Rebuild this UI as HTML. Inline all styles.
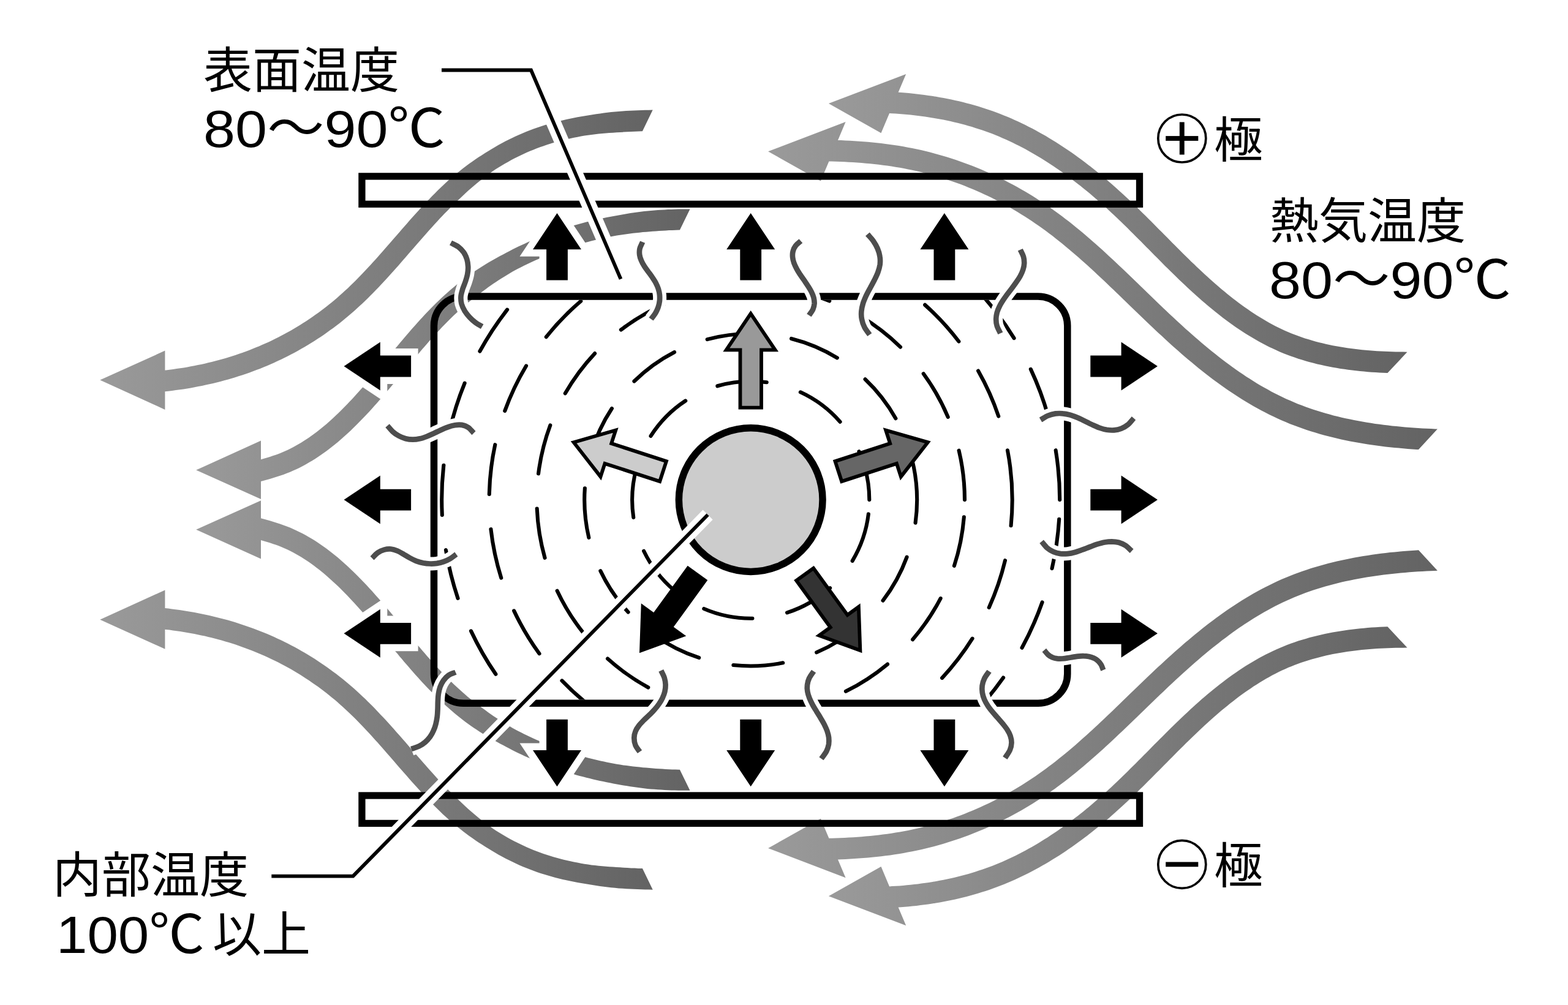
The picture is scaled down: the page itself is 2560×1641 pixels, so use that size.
<!DOCTYPE html>
<html lang="ja"><head><meta charset="utf-8"><title>誘電加熱の温度分布</title>
<style>html,body{margin:0;padding:0;background:#fff;font-family:"Liberation Sans",sans-serif}svg{display:block;width:2560px;height:1641px}</style></head><body>
<svg xmlns="http://www.w3.org/2000/svg" width="2560" height="1641" viewBox="0 0 2560 1641">
<defs>
<linearGradient id="sg" x1="0" y1="0" x2="1" y2="0"><stop offset="0" stop-color="#9a9a9a"/><stop offset="1" stop-color="#636363"/></linearGradient>
<clipPath id="blk"><path d="M756.5 489.8L1694.8 489.8C1718.2 489.8 1737.1 508.7 1737.1 532L1737.1 1100.3C1737.1 1123.6 1718.2 1142.5 1694.8 1142.5L756.5 1142.5C733.2 1142.5 714.3 1123.6 714.3 1100.3L714.3 532C714.3 508.7 733.2 489.8 756.5 489.8Z"/></clipPath>
</defs>
<rect width="2560" height="1641" fill="#fff"/>
<g id="streams" fill="url(#sg)">
<path d="M163.3 620.5 L269.4 572.6 L269.4 604.6 L270.9 604.4 L276.7 603.7 L282.5 602.9 L288.3 602.1 L294.1 601.3 L299.9 600.4 L305.7 599.4 L311.4 598.3 L317.2 597.3 L322.9 596.1 L328.6 594.9 L334.3 593.7 L339.9 592.3 L345.6 591 L351.2 589.5 L356.9 588 L362.5 586.5 L368 584.9 L373.6 583.2 L379.2 581.5 L384.7 579.7 L390.2 577.8 L395.6 575.9 L401.1 573.9 L406.5 571.9 L411.9 569.8 L417.3 567.6 L422.7 565.4 L428 563.1 L433.3 560.8 L438.6 558.4 L443.8 555.9 L449.1 553.3 L454.3 550.7 L459.4 548.1 L464.6 545.3 L469.7 542.5 L474.8 539.7 L479.8 536.7 L484.8 533.8 L489.8 530.7 L494.8 527.6 L499.7 524.4 L504.5 521.2 L509.3 517.9 L514.1 514.6 L518.9 511.2 L523.6 507.8 L528.2 504.3 L532.8 500.7 L537.4 497.1 L541.9 493.4 L546.4 489.7 L550.8 486 L555.1 482.1 L559.4 478.3 L563.7 474.3 L568 470.4 L572.2 466.3 L576.4 462.3 L580.5 458.2 L584.6 454 L588.7 449.8 L592.8 445.6 L596.8 441.3 L600.8 437 L604.8 432.7 L608.8 428.3 L612.8 423.9 L616.8 419.5 L620.7 415 L624.7 410.6 L628.6 406.1 L632.5 401.6 L636.5 397.1 L640.4 392.5 L644.3 388 L648.3 383.4 L652.2 378.9 L656.2 374.3 L660.2 369.8 L664.2 365.2 L668.2 360.6 L672.2 356.1 L676.3 351.6 L680.4 347 L684.5 342.5 L688.6 338 L692.7 333.5 L696.9 329.1 L701.2 324.7 L705.4 320.2 L709.8 315.9 L714.1 311.5 L718.5 307.2 L723 302.9 L727.5 298.7 L732.1 294.6 L736.8 290.5 L741.5 286.5 L746.3 282.6 L751.2 278.7 L756.1 274.8 L761.1 271 L766.1 267.3 L771.2 263.7 L776.4 260.1 L781.6 256.6 L786.9 253.2 L792.2 249.8 L797.6 246.5 L802.9 243.2 L808.4 240 L813.8 236.8 L819.4 233.8 L824.9 230.8 L830.5 228 L836.2 225.2 L841.9 222.5 L847.6 219.9 L853.4 217.4 L859.2 215 L865 212.7 L870.9 210.5 L876.8 208.4 L882.7 206.4 L888.7 204.5 L894.6 202.7 L900.6 201 L906.6 199.4 L912.6 197.8 L918.6 196.4 L924.7 195 L930.7 193.7 L936.8 192.5 L942.9 191.3 L948.9 190.3 L955 189.3 L961.1 188.3 L967.2 187.2 L973.3 186.3 L979.5 185.4 L985.6 184.6 L991.7 183.8 L997.8 183.1 L1004 182.5 L1010.1 181.9 L1016.3 181.5 L1022.4 181.1 L1028.5 180.7 L1034.7 180.5 L1040.8 180.2 L1047 180 L1053.1 179.8 L1059.2 179.7 L1065.3 179.5 L1065.7 179.5 L1048.9 214.2 L1048 214.3 L1042.1 214.4 L1036.2 214.7 L1030.3 214.9 L1024.3 215.3 L1018.4 215.6 L1012.6 216 L1006.7 216.3 L1000.8 216.7 L994.9 217.1 L989.1 217.5 L983.2 218 L977.4 218.6 L971.6 219.2 L965.8 219.9 L960 220.7 L954.2 221.6 L948.5 222.6 L942.8 223.7 L937.1 224.8 L931.5 226 L925.8 227.3 L920.2 228.6 L914.6 230 L909.1 231.5 L903.6 233.1 L898.1 234.8 L892.6 236.5 L887.1 238.4 L881.7 240.3 L876.3 242.3 L871 244.4 L865.7 246.5 L860.4 248.8 L855.1 251.2 L849.9 253.7 L844.7 256.2 L839.5 258.8 L834.3 261.6 L829.3 264.4 L824.2 267.2 L819.2 270.2 L814.2 273.2 L809.3 276.3 L804.5 279.6 L799.7 283 L795 286.4 L790.4 289.9 L785.8 293.4 L781.3 297 L776.8 300.7 L772.4 304.5 L768 308.3 L763.7 312.1 L759.4 316 L755.2 320 L751 324 L746.7 328 L742.5 332 L738.4 336.1 L734.2 340.2 L730.1 344.4 L726 348.6 L722 352.8 L717.9 357.1 L713.9 361.4 L709.9 365.8 L705.9 370.2 L702 374.6 L698 379 L694.1 383.5 L690.1 388 L686.2 392.5 L682.2 397 L678.3 401.5 L674.4 406 L670.4 410.6 L666.5 415.1 L662.5 419.7 L658.5 424.3 L654.6 428.8 L650.6 433.4 L646.5 437.9 L642.5 442.5 L638.4 447 L634.4 451.5 L630.3 456 L626.1 460.5 L621.9 464.9 L617.7 469.4 L613.5 473.8 L609.2 478.2 L604.9 482.6 L600.5 486.9 L596.1 491.2 L591.7 495.4 L587.2 499.6 L582.6 503.8 L578 508 L573.3 512 L568.6 516.1 L563.8 520.1 L559 524 L554.1 527.9 L549.1 531.7 L544.2 535.4 L539.1 539.1 L534 542.8 L528.9 546.4 L523.7 549.9 L518.5 553.3 L513.3 556.7 L508 560 L502.7 563.3 L497.3 566.5 L491.9 569.6 L486.4 572.7 L481 575.7 L475.5 578.6 L469.9 581.5 L464.3 584.3 L458.8 587 L453.1 589.6 L447.5 592.2 L441.8 594.7 L436.1 597.2 L430.4 599.6 L424.6 601.9 L418.8 604.1 L413 606.3 L407.2 608.4 L401.4 610.4 L395.5 612.4 L389.6 614.3 L383.7 616.2 L377.8 618 L371.9 619.7 L365.9 621.3 L359.9 622.9 L353.9 624.4 L347.9 625.9 L341.9 627.3 L335.9 628.6 L329.8 629.9 L323.7 631.1 L317.7 632.3 L311.6 633.4 L305.5 634.4 L299.4 635.4 L293.2 636.3 L287.1 637.1 L281 637.9 L274.8 638.7 L269.4 639.3 L269.4 668.9Z"/>
<path d="M163.3 1011.8 L269.4 1059.7 L269.4 1027.7 L270.9 1027.9 L276.7 1028.6 L282.5 1029.4 L288.3 1030.2 L294.1 1031 L299.9 1031.9 L305.7 1032.9 L311.4 1034 L317.2 1035 L322.9 1036.2 L328.6 1037.4 L334.3 1038.6 L339.9 1040 L345.6 1041.3 L351.2 1042.8 L356.9 1044.3 L362.5 1045.8 L368 1047.4 L373.6 1049.1 L379.2 1050.8 L384.7 1052.6 L390.2 1054.5 L395.6 1056.4 L401.1 1058.4 L406.5 1060.4 L411.9 1062.5 L417.3 1064.7 L422.7 1066.9 L428 1069.2 L433.3 1071.5 L438.6 1073.9 L443.8 1076.4 L449.1 1079 L454.3 1081.6 L459.4 1084.2 L464.6 1087 L469.7 1089.8 L474.8 1092.6 L479.8 1095.6 L484.8 1098.5 L489.8 1101.6 L494.8 1104.7 L499.7 1107.9 L504.5 1111.1 L509.3 1114.4 L514.1 1117.7 L518.9 1121.1 L523.6 1124.5 L528.2 1128 L532.8 1131.6 L537.4 1135.2 L541.9 1138.9 L546.4 1142.6 L550.8 1146.3 L555.1 1150.2 L559.4 1154 L563.7 1158 L568 1161.9 L572.2 1166 L576.4 1170 L580.5 1174.1 L584.6 1178.3 L588.7 1182.5 L592.8 1186.7 L596.8 1191 L600.8 1195.3 L604.8 1199.6 L608.8 1204 L612.8 1208.4 L616.8 1212.8 L620.7 1217.3 L624.7 1221.7 L628.6 1226.2 L632.5 1230.7 L636.5 1235.2 L640.4 1239.8 L644.3 1244.3 L648.3 1248.9 L652.2 1253.4 L656.2 1258 L660.2 1262.5 L664.2 1267.1 L668.2 1271.7 L672.2 1276.2 L676.3 1280.7 L680.4 1285.3 L684.5 1289.8 L688.6 1294.3 L692.7 1298.8 L696.9 1303.2 L701.2 1307.6 L705.4 1312.1 L709.8 1316.4 L714.1 1320.8 L718.5 1325.1 L723 1329.4 L727.5 1333.6 L732.1 1337.7 L736.8 1341.8 L741.5 1345.8 L746.3 1349.7 L751.2 1353.6 L756.1 1357.5 L761.1 1361.3 L766.1 1365 L771.2 1368.6 L776.4 1372.2 L781.6 1375.7 L786.9 1379.1 L792.2 1382.5 L797.6 1385.8 L802.9 1389.1 L808.4 1392.3 L813.8 1395.5 L819.4 1398.5 L824.9 1401.5 L830.5 1404.3 L836.2 1407.1 L841.9 1409.8 L847.6 1412.4 L853.4 1414.9 L859.2 1417.3 L865 1419.6 L870.9 1421.8 L876.8 1423.9 L882.7 1425.9 L888.7 1427.8 L894.6 1429.6 L900.6 1431.3 L906.6 1432.9 L912.6 1434.5 L918.6 1435.9 L924.7 1437.3 L930.7 1438.6 L936.8 1439.8 L942.9 1441 L948.9 1442 L955 1443 L961.1 1444 L967.2 1445.1 L973.3 1446 L979.5 1446.9 L985.6 1447.7 L991.7 1448.5 L997.8 1449.2 L1004 1449.8 L1010.1 1450.4 L1016.3 1450.8 L1022.4 1451.2 L1028.5 1451.6 L1034.7 1451.8 L1040.8 1452.1 L1047 1452.3 L1053.1 1452.5 L1059.2 1452.6 L1065.3 1452.8 L1065.7 1452.8 L1048.9 1418.1 L1048 1418 L1042.1 1417.9 L1036.2 1417.6 L1030.3 1417.4 L1024.3 1417 L1018.4 1416.7 L1012.6 1416.3 L1006.7 1416 L1000.8 1415.6 L994.9 1415.2 L989.1 1414.8 L983.2 1414.3 L977.4 1413.7 L971.6 1413.1 L965.8 1412.4 L960 1411.6 L954.2 1410.7 L948.5 1409.7 L942.8 1408.6 L937.1 1407.5 L931.5 1406.3 L925.8 1405 L920.2 1403.7 L914.6 1402.3 L909.1 1400.8 L903.6 1399.2 L898.1 1397.5 L892.6 1395.8 L887.1 1393.9 L881.7 1392 L876.3 1390 L871 1387.9 L865.7 1385.8 L860.4 1383.5 L855.1 1381.1 L849.9 1378.6 L844.7 1376.1 L839.5 1373.5 L834.3 1370.7 L829.3 1367.9 L824.2 1365.1 L819.2 1362.1 L814.2 1359.1 L809.3 1356 L804.5 1352.7 L799.7 1349.3 L795 1345.9 L790.4 1342.4 L785.8 1338.9 L781.3 1335.3 L776.8 1331.6 L772.4 1327.8 L768 1324 L763.7 1320.2 L759.4 1316.3 L755.2 1312.3 L751 1308.3 L746.7 1304.3 L742.5 1300.3 L738.4 1296.2 L734.2 1292.1 L730.1 1287.9 L726 1283.7 L722 1279.5 L717.9 1275.2 L713.9 1270.9 L709.9 1266.5 L705.9 1262.1 L702 1257.7 L698 1253.3 L694.1 1248.8 L690.1 1244.3 L686.2 1239.8 L682.2 1235.3 L678.3 1230.8 L674.4 1226.3 L670.4 1221.7 L666.5 1217.2 L662.5 1212.6 L658.5 1208 L654.6 1203.5 L650.6 1198.9 L646.5 1194.4 L642.5 1189.8 L638.4 1185.3 L634.4 1180.8 L630.3 1176.3 L626.1 1171.8 L621.9 1167.4 L617.7 1162.9 L613.5 1158.5 L609.2 1154.1 L604.9 1149.7 L600.5 1145.4 L596.1 1141.1 L591.7 1136.9 L587.2 1132.7 L582.6 1128.5 L578 1124.3 L573.3 1120.3 L568.6 1116.2 L563.8 1112.2 L559 1108.3 L554.1 1104.4 L549.1 1100.6 L544.2 1096.9 L539.1 1093.2 L534 1089.5 L528.9 1085.9 L523.7 1082.4 L518.5 1079 L513.3 1075.6 L508 1072.3 L502.7 1069 L497.3 1065.8 L491.9 1062.7 L486.4 1059.6 L481 1056.6 L475.5 1053.7 L469.9 1050.8 L464.3 1048 L458.8 1045.3 L453.1 1042.7 L447.5 1040.1 L441.8 1037.6 L436.1 1035.1 L430.4 1032.7 L424.6 1030.4 L418.8 1028.2 L413 1026 L407.2 1023.9 L401.4 1021.9 L395.5 1019.9 L389.6 1018 L383.7 1016.1 L377.8 1014.3 L371.9 1012.6 L365.9 1011 L359.9 1009.4 L353.9 1007.9 L347.9 1006.4 L341.9 1005 L335.9 1003.7 L329.8 1002.4 L323.7 1001.2 L317.7 1000 L311.6 998.9 L305.5 997.9 L299.4 996.9 L293.2 996 L287.1 995.2 L281 994.4 L274.8 993.6 L269.4 993 L269.4 963.4Z"/>
<path d="M320.2 767.6 L426 719.6 L426 750.3 L431 748.8 L436.2 747.3 L441.2 745.8 L446.1 744.1 L451 742.5 L455.7 740.7 L460.4 738.8 L465 736.8 L469.6 734.7 L474.1 732.5 L478.5 730.2 L482.9 727.8 L487.3 725.3 L491.7 722.8 L495.9 720.1 L500.2 717.3 L504.4 714.5 L508.6 711.5 L512.7 708.5 L516.8 705.4 L520.9 702.3 L524.9 699 L528.9 695.7 L532.9 692.4 L536.8 688.9 L540.7 685.4 L544.5 681.9 L548.4 678.3 L552.2 674.7 L556 671 L559.7 667.3 L563.4 663.5 L567.1 659.7 L570.8 655.8 L574.5 651.9 L578.1 648 L581.7 644 L585.3 640 L588.9 636 L592.5 632 L596 627.9 L599.6 623.8 L603.1 619.6 L606.7 615.5 L610.2 611.3 L613.7 607.1 L617.2 602.9 L620.7 598.7 L624.3 594.5 L627.8 590.2 L631.3 586 L634.8 581.7 L638.3 577.5 L641.9 573.2 L645.4 568.9 L649 564.7 L652.5 560.4 L656.1 556.2 L659.7 551.9 L663.3 547.7 L667 543.5 L670.6 539.2 L674.3 535 L678 530.9 L681.7 526.7 L685.5 522.6 L689.3 518.4 L693.1 514.3 L696.9 510.3 L700.8 506.2 L704.7 502.2 L708.7 498.3 L712.7 494.3 L716.7 490.4 L720.8 486.6 L724.9 482.7 L729.1 479 L733.3 475.2 L737.6 471.5 L741.9 467.9 L746.2 464.3 L750.6 460.8 L755 457.4 L759.5 453.9 L764 450.6 L768.5 447.3 L773.2 444.1 L777.9 441 L782.6 437.9 L787.3 434.9 L792.1 432 L796.9 429.1 L801.7 426.3 L806.6 423.5 L811.5 420.8 L816.4 418.1 L821.4 415.5 L826.4 412.8 L831.3 410.2 L836.3 407.6 L841.3 405.1 L846.4 402.6 L851.4 400.2 L856.5 397.9 L861.6 395.6 L866.8 393.3 L872 391.1 L877.1 388.9 L882.4 386.8 L887.6 384.8 L892.9 382.8 L898.1 380.8 L903.4 378.9 L908.7 377 L914.1 375.2 L919.4 373.5 L924.8 371.8 L930.2 370.1 L935.6 368.5 L941 366.9 L946.4 365.4 L951.9 364 L957.3 362.6 L962.8 361.2 L968.3 359.9 L973.8 358.6 L979.3 357.4 L984.8 356.2 L990.3 355.1 L995.9 354 L1001.4 352.9 L1007 351.9 L1012.5 350.9 L1018.1 349.9 L1023.6 349 L1029.2 348.1 L1034.8 347.3 L1040.3 346.5 L1045.9 345.8 L1051.5 345.1 L1057.1 344.4 L1062.7 343.9 L1068.3 343.5 L1073.9 343 L1079.5 342.7 L1085.1 342.4 L1090.7 342.1 L1096.3 341.9 L1101.9 341.7 L1107.5 341.6 L1113.1 341.5 L1118.7 341.5 L1124.3 341.5 L1126.5 341.5 L1109.9 375.6 L1108.1 375.6 L1102.8 375.8 L1097.5 375.9 L1092.2 376.1 L1086.9 376.4 L1081.5 376.7 L1076.2 377 L1070.9 377.4 L1065.6 377.8 L1060.3 378.2 L1054.9 378.7 L1049.6 379.1 L1044.3 379.7 L1039 380.2 L1033.6 380.8 L1028.3 381.5 L1023 382.2 L1017.7 382.9 L1012.4 383.7 L1007.1 384.6 L1001.8 385.5 L996.6 386.5 L991.3 387.6 L986.1 388.7 L980.8 389.8 L975.6 391 L970.4 392.3 L965.2 393.6 L960 394.9 L954.9 396.3 L949.7 397.7 L944.6 399.2 L939.5 400.7 L934.4 402.3 L929.3 403.9 L924.2 405.6 L919.2 407.3 L914.1 409.1 L909.1 410.9 L904.1 412.7 L899.2 414.6 L894.2 416.5 L889.3 418.5 L884.4 420.6 L879.5 422.7 L874.7 424.8 L869.8 427 L865 429.2 L860.3 431.5 L855.5 433.8 L850.8 436.2 L846.1 438.6 L841.4 441 L836.8 443.6 L832.3 446.2 L827.8 448.9 L823.3 451.7 L818.8 454.5 L814.4 457.3 L810 460.2 L805.7 463.1 L801.4 466.1 L797.1 469.1 L792.9 472.2 L788.7 475.3 L784.5 478.4 L780.3 481.5 L776.1 484.6 L772 487.9 L768 491.1 L763.9 494.4 L760 497.8 L756 501.2 L752.1 504.7 L748.2 508.2 L744.4 511.7 L740.6 515.3 L736.8 519 L733 522.7 L729.3 526.5 L725.6 530.3 L721.9 534.1 L718.2 538 L714.6 541.9 L711 545.8 L707.4 549.8 L703.8 553.8 L700.2 557.8 L696.6 561.9 L693.1 566 L689.5 570.1 L686 574.3 L682.5 578.4 L679 582.6 L675.4 586.8 L671.9 591 L668.4 595.2 L664.9 599.5 L661.4 603.7 L657.9 608 L654.3 612.2 L650.8 616.5 L647.3 620.8 L643.7 625 L640.1 629.3 L636.6 633.5 L633 637.8 L629.4 642 L625.7 646.3 L622.1 650.5 L618.4 654.7 L614.7 658.9 L611 663.1 L607.3 667.2 L603.5 671.4 L599.7 675.5 L595.9 679.5 L592 683.6 L588.1 687.6 L584.2 691.6 L580.2 695.6 L576.1 699.5 L572.1 703.4 L568 707.2 L563.8 711 L559.6 714.8 L555.4 718.5 L551.1 722.2 L546.7 725.8 L542.3 729.3 L537.8 732.8 L533.3 736.2 L528.7 739.6 L524 742.8 L519.3 746 L514.5 749.2 L509.6 752.2 L504.7 755.1 L499.7 758 L494.7 760.7 L489.5 763.4 L484.3 765.9 L479 768.3 L473.6 770.7 L468.2 772.8 L462.7 774.9 L457.2 776.8 L451.7 778.6 L446.2 780.3 L440.7 782 L435.2 783.5 L429.8 785 L426 786.1 L426 815Z"/>
<path d="M320.2 864.7 L426 912.6 L426 882 L431 883.5 L436.2 885 L441.2 886.5 L446.1 888.2 L451 889.8 L455.7 891.6 L460.4 893.5 L465 895.5 L469.6 897.6 L474.1 899.8 L478.5 902.1 L482.9 904.5 L487.3 907 L491.7 909.5 L495.9 912.2 L500.2 915 L504.4 917.8 L508.6 920.8 L512.7 923.8 L516.8 926.9 L520.9 930 L524.9 933.3 L528.9 936.6 L532.9 939.9 L536.8 943.4 L540.7 946.9 L544.5 950.4 L548.4 954 L552.2 957.6 L556 961.3 L559.7 965 L563.4 968.8 L567.1 972.6 L570.8 976.5 L574.5 980.4 L578.1 984.3 L581.7 988.3 L585.3 992.3 L588.9 996.3 L592.5 1000.3 L596 1004.4 L599.6 1008.5 L603.1 1012.7 L606.7 1016.8 L610.2 1021 L613.7 1025.2 L617.2 1029.4 L620.7 1033.6 L624.3 1037.8 L627.8 1042.1 L631.3 1046.3 L634.8 1050.6 L638.3 1054.8 L641.9 1059.1 L645.4 1063.4 L649 1067.6 L652.5 1071.9 L656.1 1076.1 L659.7 1080.4 L663.3 1084.6 L667 1088.8 L670.6 1093.1 L674.3 1097.3 L678 1101.4 L681.7 1105.6 L685.5 1109.7 L689.3 1113.9 L693.1 1118 L696.9 1122 L700.8 1126.1 L704.7 1130.1 L708.7 1134 L712.7 1138 L716.7 1141.9 L720.8 1145.7 L724.9 1149.6 L729.1 1153.3 L733.3 1157.1 L737.6 1160.8 L741.9 1164.4 L746.2 1168 L750.6 1171.5 L755 1174.9 L759.5 1178.4 L764 1181.7 L768.5 1185 L773.2 1188.2 L777.9 1191.3 L782.6 1194.4 L787.3 1197.4 L792.1 1200.3 L796.9 1203.2 L801.7 1206 L806.6 1208.8 L811.5 1211.5 L816.4 1214.2 L821.4 1216.8 L826.4 1219.5 L831.3 1222.1 L836.3 1224.7 L841.3 1227.2 L846.4 1229.7 L851.4 1232.1 L856.5 1234.4 L861.6 1236.7 L866.8 1239 L872 1241.2 L877.1 1243.4 L882.4 1245.5 L887.6 1247.5 L892.9 1249.5 L898.1 1251.5 L903.4 1253.4 L908.7 1255.3 L914.1 1257.1 L919.4 1258.8 L924.8 1260.5 L930.2 1262.2 L935.6 1263.8 L941 1265.4 L946.4 1266.9 L951.9 1268.3 L957.3 1269.7 L962.8 1271.1 L968.3 1272.4 L973.8 1273.7 L979.3 1274.9 L984.8 1276.1 L990.3 1277.2 L995.9 1278.3 L1001.4 1279.4 L1007 1280.4 L1012.5 1281.4 L1018.1 1282.4 L1023.6 1283.3 L1029.2 1284.2 L1034.8 1285 L1040.3 1285.8 L1045.9 1286.5 L1051.5 1287.2 L1057.1 1287.9 L1062.7 1288.4 L1068.3 1288.8 L1073.9 1289.3 L1079.5 1289.6 L1085.1 1289.9 L1090.7 1290.2 L1096.3 1290.4 L1101.9 1290.6 L1107.5 1290.7 L1113.1 1290.8 L1118.7 1290.8 L1124.3 1290.8 L1126.5 1290.8 L1109.9 1256.7 L1108.1 1256.7 L1102.8 1256.5 L1097.5 1256.4 L1092.2 1256.2 L1086.9 1255.9 L1081.5 1255.6 L1076.2 1255.3 L1070.9 1254.9 L1065.6 1254.5 L1060.3 1254.1 L1054.9 1253.6 L1049.6 1253.2 L1044.3 1252.6 L1039 1252.1 L1033.6 1251.5 L1028.3 1250.8 L1023 1250.1 L1017.7 1249.4 L1012.4 1248.6 L1007.1 1247.7 L1001.8 1246.8 L996.6 1245.8 L991.3 1244.7 L986.1 1243.6 L980.8 1242.5 L975.6 1241.3 L970.4 1240 L965.2 1238.7 L960 1237.4 L954.9 1236 L949.7 1234.6 L944.6 1233.1 L939.5 1231.6 L934.4 1230 L929.3 1228.4 L924.2 1226.7 L919.2 1225 L914.1 1223.2 L909.1 1221.4 L904.1 1219.6 L899.2 1217.7 L894.2 1215.8 L889.3 1213.8 L884.4 1211.7 L879.5 1209.6 L874.7 1207.5 L869.8 1205.3 L865 1203.1 L860.3 1200.8 L855.5 1198.5 L850.8 1196.1 L846.1 1193.7 L841.4 1191.3 L836.8 1188.7 L832.3 1186.1 L827.8 1183.4 L823.3 1180.6 L818.8 1177.8 L814.4 1175 L810 1172.1 L805.7 1169.2 L801.4 1166.2 L797.1 1163.2 L792.9 1160.1 L788.7 1157 L784.5 1153.9 L780.3 1150.8 L776.1 1147.7 L772 1144.4 L768 1141.2 L763.9 1137.9 L760 1134.5 L756 1131.1 L752.1 1127.6 L748.2 1124.1 L744.4 1120.6 L740.6 1117 L736.8 1113.3 L733 1109.6 L729.3 1105.8 L725.6 1102 L721.9 1098.2 L718.2 1094.3 L714.6 1090.4 L711 1086.5 L707.4 1082.5 L703.8 1078.5 L700.2 1074.5 L696.6 1070.4 L693.1 1066.3 L689.5 1062.2 L686 1058 L682.5 1053.9 L679 1049.7 L675.4 1045.5 L671.9 1041.3 L668.4 1037.1 L664.9 1032.8 L661.4 1028.6 L657.9 1024.3 L654.3 1020.1 L650.8 1015.8 L647.3 1011.5 L643.7 1007.3 L640.1 1003 L636.6 998.8 L633 994.5 L629.4 990.3 L625.7 986 L622.1 981.8 L618.4 977.6 L614.7 973.4 L611 969.2 L607.3 965.1 L603.5 960.9 L599.7 956.8 L595.9 952.8 L592 948.7 L588.1 944.7 L584.2 940.7 L580.2 936.7 L576.1 932.8 L572.1 928.9 L568 925.1 L563.8 921.3 L559.6 917.5 L555.4 913.8 L551.1 910.1 L546.7 906.5 L542.3 903 L537.8 899.5 L533.3 896.1 L528.7 892.7 L524 889.5 L519.3 886.3 L514.5 883.1 L509.6 880.1 L504.7 877.2 L499.7 874.3 L494.7 871.6 L489.5 868.9 L484.3 866.4 L479 864 L473.6 861.6 L468.2 859.5 L462.7 857.4 L457.2 855.5 L451.7 853.7 L446.2 852 L440.7 850.3 L435.2 848.8 L429.8 847.3 L426 846.2 L426 817.3Z"/>
<path d="M1352.9 169 L1479.2 121 L1466.6 150.7 L1471 151 L1477.4 151.5 L1483.7 152.1 L1490.1 152.7 L1496.5 153.4 L1502.8 154.2 L1509.1 155 L1515.5 155.9 L1521.8 156.8 L1528.1 157.8 L1534.4 158.9 L1540.7 160.1 L1547 161.3 L1553.3 162.6 L1559.6 163.9 L1565.8 165.3 L1572 166.8 L1578.2 168.4 L1584.4 170.1 L1590.6 171.8 L1596.7 173.6 L1602.8 175.5 L1608.9 177.4 L1615 179.4 L1621 181.6 L1627.1 183.7 L1633 186 L1639 188.4 L1644.9 190.8 L1650.8 193.3 L1656.6 195.9 L1662.4 198.5 L1668.1 201.2 L1673.9 204 L1679.5 206.9 L1685.2 209.8 L1690.8 212.8 L1696.4 215.9 L1701.9 219 L1707.4 222.1 L1712.9 225.4 L1718.3 228.7 L1723.7 232 L1729.1 235.4 L1734.4 238.9 L1739.7 242.4 L1745 246 L1750.2 249.6 L1755.4 253.3 L1760.5 257 L1765.7 260.7 L1770.7 264.5 L1775.8 268.4 L1780.8 272.3 L1785.8 276.2 L1790.8 280.2 L1795.7 284.2 L1800.6 288.2 L1805.4 292.3 L1810.3 296.4 L1815 300.6 L1819.8 304.8 L1824.5 309 L1829.2 313.2 L1833.9 317.5 L1838.5 321.8 L1843.1 326.1 L1847.7 330.4 L1852.2 334.8 L1856.8 339.1 L1861.2 343.5 L1865.7 347.9 L1870.2 352.3 L1874.6 356.7 L1879 361.1 L1883.4 365.5 L1887.8 370 L1892.2 374.4 L1896.6 378.8 L1901 383.2 L1905.3 387.6 L1909.7 392 L1914 396.4 L1918.4 400.8 L1922.8 405.2 L1927.1 409.6 L1931.5 413.9 L1935.9 418.2 L1940.3 422.6 L1944.7 426.9 L1949.1 431.1 L1953.6 435.4 L1958 439.6 L1962.5 443.8 L1967 448 L1971.5 452.1 L1976.1 456.2 L1980.6 460.3 L1985.2 464.3 L1989.8 468.3 L1994.4 472.2 L1999.1 476.1 L2003.8 479.9 L2008.5 483.7 L2013.2 487.4 L2017.9 491.1 L2022.7 494.7 L2027.5 498.2 L2032.4 501.7 L2037.2 505.1 L2042.1 508.4 L2047 511.7 L2052 514.9 L2057 518 L2062 521.1 L2067 524 L2072.1 526.9 L2077.2 529.7 L2082.3 532.4 L2087.5 535 L2092.7 537.5 L2098 539.9 L2103.3 542.2 L2108.6 544.4 L2114 546.6 L2119.4 548.6 L2124.9 550.5 L2130.4 552.4 L2136 554.1 L2141.6 555.8 L2147.3 557.4 L2153 558.9 L2158.7 560.3 L2164.5 561.7 L2170.3 563 L2176.1 564.2 L2182 565.3 L2187.9 566.3 L2193.9 567.3 L2199.8 568.2 L2205.8 569 L2211.8 569.8 L2217.8 570.5 L2223.9 571.2 L2229.9 571.8 L2236 572.3 L2242.1 572.7 L2248.2 573.2 L2254.3 573.5 L2260.4 573.8 L2266.5 574.1 L2272.6 574.3 L2278.7 574.5 L2284.8 574.6 L2290.9 574.6 L2297 574.7 L2297.5 574.7 L2265.4 609.1 L2265.2 609.1 L2258.8 608.8 L2252.4 608.5 L2246 608.1 L2239.5 607.7 L2233.1 607.2 L2226.7 606.6 L2220.3 606 L2213.9 605.3 L2207.5 604.6 L2201.1 603.7 L2194.8 602.8 L2188.4 601.9 L2182 600.8 L2175.7 599.7 L2169.4 598.5 L2163.1 597.2 L2156.8 595.8 L2150.5 594.4 L2144.3 592.8 L2138.1 591.2 L2131.9 589.4 L2125.7 587.6 L2119.6 585.7 L2113.5 583.6 L2107.5 581.5 L2101.4 579.2 L2095.5 576.9 L2089.5 574.4 L2083.7 571.8 L2077.8 569.1 L2072.1 566.4 L2066.4 563.5 L2060.7 560.5 L2055.1 557.5 L2049.6 554.3 L2044.1 551.1 L2038.6 547.8 L2033.2 544.5 L2027.9 541 L2022.6 537.5 L2017.3 533.9 L2012.1 530.2 L2006.9 526.5 L2001.8 522.7 L1996.7 518.9 L1991.7 515 L1986.7 511.1 L1981.7 507.1 L1976.8 503 L1971.9 499 L1967 494.8 L1962.2 490.7 L1957.5 486.5 L1952.7 482.3 L1948 478 L1943.3 473.7 L1938.7 469.4 L1934 465.1 L1929.5 460.7 L1924.9 456.4 L1920.4 452 L1915.8 447.6 L1911.4 443.2 L1906.9 438.8 L1902.4 434.4 L1898 429.9 L1893.6 425.5 L1889.2 421.1 L1884.8 416.7 L1880.4 412.2 L1876.1 407.8 L1871.7 403.4 L1867.3 399 L1863 394.6 L1858.6 390.2 L1854.3 385.9 L1849.9 381.5 L1845.5 377.2 L1841.2 372.8 L1836.8 368.5 L1832.4 364.3 L1828 360 L1823.6 355.8 L1819.1 351.6 L1814.7 347.4 L1810.2 343.2 L1805.7 339.1 L1801.2 335 L1796.6 331 L1792 327 L1787.4 323 L1782.8 319 L1778.2 315.1 L1773.5 311.3 L1768.8 307.4 L1764 303.6 L1759.3 299.9 L1754.5 296.2 L1749.7 292.5 L1744.8 288.9 L1739.9 285.3 L1735.1 281.8 L1730.1 278.3 L1725.2 274.9 L1720.2 271.5 L1715.2 268.2 L1710.2 264.9 L1705.1 261.7 L1700 258.5 L1694.9 255.4 L1689.8 252.4 L1684.6 249.4 L1679.4 246.5 L1674.2 243.6 L1668.9 240.8 L1663.6 238.1 L1658.3 235.4 L1653 232.8 L1647.6 230.3 L1642.2 227.8 L1636.8 225.4 L1631.4 223.1 L1625.9 220.8 L1620.4 218.6 L1614.9 216.5 L1609.3 214.5 L1603.7 212.6 L1598 210.7 L1592.4 208.9 L1586.7 207.1 L1581 205.4 L1575.2 203.8 L1569.4 202.3 L1563.6 200.8 L1557.8 199.4 L1552 198.1 L1546.1 196.8 L1540.2 195.6 L1534.3 194.5 L1528.4 193.4 L1522.4 192.4 L1516.5 191.4 L1510.5 190.5 L1504.5 189.7 L1498.5 188.9 L1492.5 188.2 L1486.5 187.6 L1480.5 187 L1474.5 186.4 L1468.4 185.9 L1462.4 185.5 L1456.4 185.2 L1452.1 184.9 L1438.5 217.2Z"/>
<path d="M1352.9 1463.3 L1479.2 1511.3 L1466.6 1481.6 L1471 1481.3 L1477.4 1480.8 L1483.7 1480.2 L1490.1 1479.6 L1496.5 1478.9 L1502.8 1478.1 L1509.1 1477.3 L1515.5 1476.4 L1521.8 1475.5 L1528.1 1474.5 L1534.4 1473.4 L1540.7 1472.2 L1547 1471 L1553.3 1469.7 L1559.6 1468.4 L1565.8 1467 L1572 1465.5 L1578.2 1463.9 L1584.4 1462.2 L1590.6 1460.5 L1596.7 1458.7 L1602.8 1456.8 L1608.9 1454.9 L1615 1452.9 L1621 1450.7 L1627.1 1448.6 L1633 1446.3 L1639 1443.9 L1644.9 1441.5 L1650.8 1439 L1656.6 1436.4 L1662.4 1433.8 L1668.1 1431.1 L1673.9 1428.3 L1679.5 1425.4 L1685.2 1422.5 L1690.8 1419.5 L1696.4 1416.4 L1701.9 1413.3 L1707.4 1410.2 L1712.9 1406.9 L1718.3 1403.6 L1723.7 1400.3 L1729.1 1396.9 L1734.4 1393.4 L1739.7 1389.9 L1745 1386.3 L1750.2 1382.7 L1755.4 1379 L1760.5 1375.3 L1765.7 1371.6 L1770.7 1367.8 L1775.8 1363.9 L1780.8 1360 L1785.8 1356.1 L1790.8 1352.1 L1795.7 1348.1 L1800.6 1344.1 L1805.4 1340 L1810.3 1335.9 L1815 1331.7 L1819.8 1327.5 L1824.5 1323.3 L1829.2 1319.1 L1833.9 1314.8 L1838.5 1310.5 L1843.1 1306.2 L1847.7 1301.9 L1852.2 1297.5 L1856.8 1293.2 L1861.2 1288.8 L1865.7 1284.4 L1870.2 1280 L1874.6 1275.6 L1879 1271.2 L1883.4 1266.8 L1887.8 1262.3 L1892.2 1257.9 L1896.6 1253.5 L1901 1249.1 L1905.3 1244.7 L1909.7 1240.3 L1914 1235.9 L1918.4 1231.5 L1922.8 1227.1 L1927.1 1222.7 L1931.5 1218.4 L1935.9 1214.1 L1940.3 1209.7 L1944.7 1205.4 L1949.1 1201.2 L1953.6 1196.9 L1958 1192.7 L1962.5 1188.5 L1967 1184.3 L1971.5 1180.2 L1976.1 1176.1 L1980.6 1172 L1985.2 1168 L1989.8 1164 L1994.4 1160.1 L1999.1 1156.2 L2003.8 1152.4 L2008.5 1148.6 L2013.2 1144.9 L2017.9 1141.2 L2022.7 1137.6 L2027.5 1134.1 L2032.4 1130.6 L2037.2 1127.2 L2042.1 1123.9 L2047 1120.6 L2052 1117.4 L2057 1114.3 L2062 1111.2 L2067 1108.3 L2072.1 1105.4 L2077.2 1102.6 L2082.3 1099.9 L2087.5 1097.3 L2092.7 1094.8 L2098 1092.4 L2103.3 1090.1 L2108.6 1087.9 L2114 1085.7 L2119.4 1083.7 L2124.9 1081.8 L2130.4 1079.9 L2136 1078.2 L2141.6 1076.5 L2147.3 1074.9 L2153 1073.4 L2158.7 1072 L2164.5 1070.6 L2170.3 1069.3 L2176.1 1068.1 L2182 1067 L2187.9 1066 L2193.9 1065 L2199.8 1064.1 L2205.8 1063.3 L2211.8 1062.5 L2217.8 1061.8 L2223.9 1061.1 L2229.9 1060.5 L2236 1060 L2242.1 1059.6 L2248.2 1059.1 L2254.3 1058.8 L2260.4 1058.5 L2266.5 1058.2 L2272.6 1058 L2278.7 1057.8 L2284.8 1057.7 L2290.9 1057.7 L2297 1057.6 L2297.5 1057.6 L2265.4 1023.2 L2265.2 1023.2 L2258.8 1023.5 L2252.4 1023.8 L2246 1024.2 L2239.5 1024.6 L2233.1 1025.1 L2226.7 1025.7 L2220.3 1026.3 L2213.9 1027 L2207.5 1027.7 L2201.1 1028.6 L2194.8 1029.5 L2188.4 1030.4 L2182 1031.5 L2175.7 1032.6 L2169.4 1033.8 L2163.1 1035.1 L2156.8 1036.5 L2150.5 1037.9 L2144.3 1039.5 L2138.1 1041.1 L2131.9 1042.9 L2125.7 1044.7 L2119.6 1046.6 L2113.5 1048.7 L2107.5 1050.8 L2101.4 1053.1 L2095.5 1055.4 L2089.5 1057.9 L2083.7 1060.5 L2077.8 1063.2 L2072.1 1065.9 L2066.4 1068.8 L2060.7 1071.8 L2055.1 1074.8 L2049.6 1078 L2044.1 1081.2 L2038.6 1084.5 L2033.2 1087.8 L2027.9 1091.3 L2022.6 1094.8 L2017.3 1098.4 L2012.1 1102.1 L2006.9 1105.8 L2001.8 1109.6 L1996.7 1113.4 L1991.7 1117.3 L1986.7 1121.2 L1981.7 1125.2 L1976.8 1129.3 L1971.9 1133.3 L1967 1137.5 L1962.2 1141.6 L1957.5 1145.8 L1952.7 1150 L1948 1154.3 L1943.3 1158.6 L1938.7 1162.9 L1934 1167.2 L1929.5 1171.6 L1924.9 1175.9 L1920.4 1180.3 L1915.8 1184.7 L1911.4 1189.1 L1906.9 1193.5 L1902.4 1197.9 L1898 1202.4 L1893.6 1206.8 L1889.2 1211.2 L1884.8 1215.6 L1880.4 1220.1 L1876.1 1224.5 L1871.7 1228.9 L1867.3 1233.3 L1863 1237.7 L1858.6 1242.1 L1854.3 1246.4 L1849.9 1250.8 L1845.5 1255.1 L1841.2 1259.5 L1836.8 1263.8 L1832.4 1268 L1828 1272.3 L1823.6 1276.5 L1819.1 1280.7 L1814.7 1284.9 L1810.2 1289.1 L1805.7 1293.2 L1801.2 1297.3 L1796.6 1301.3 L1792 1305.3 L1787.4 1309.3 L1782.8 1313.3 L1778.2 1317.2 L1773.5 1321 L1768.8 1324.9 L1764 1328.7 L1759.3 1332.4 L1754.5 1336.1 L1749.7 1339.8 L1744.8 1343.4 L1739.9 1347 L1735.1 1350.5 L1730.1 1354 L1725.2 1357.4 L1720.2 1360.8 L1715.2 1364.1 L1710.2 1367.4 L1705.1 1370.6 L1700 1373.8 L1694.9 1376.9 L1689.8 1379.9 L1684.6 1382.9 L1679.4 1385.8 L1674.2 1388.7 L1668.9 1391.5 L1663.6 1394.2 L1658.3 1396.9 L1653 1399.5 L1647.6 1402 L1642.2 1404.5 L1636.8 1406.9 L1631.4 1409.2 L1625.9 1411.5 L1620.4 1413.7 L1614.9 1415.8 L1609.3 1417.8 L1603.7 1419.7 L1598 1421.6 L1592.4 1423.4 L1586.7 1425.2 L1581 1426.9 L1575.2 1428.5 L1569.4 1430 L1563.6 1431.5 L1557.8 1432.9 L1552 1434.2 L1546.1 1435.5 L1540.2 1436.7 L1534.3 1437.8 L1528.4 1438.9 L1522.4 1439.9 L1516.5 1440.9 L1510.5 1441.8 L1504.5 1442.6 L1498.5 1443.4 L1492.5 1444.1 L1486.5 1444.7 L1480.5 1445.3 L1474.5 1445.9 L1468.4 1446.4 L1462.4 1446.8 L1456.4 1447.1 L1452.1 1447.4 L1438.5 1415.1Z"/>
<path d="M1254.1 247.2 L1380.6 199 L1368 228.9 L1373.2 229.1 L1380.4 229.4 L1387.7 229.7 L1395 230.2 L1402.3 230.7 L1409.5 231.2 L1416.8 231.8 L1424.1 232.5 L1431.4 233.3 L1438.7 234.1 L1445.9 235 L1453.2 235.9 L1460.5 237 L1467.7 238.1 L1475 239.3 L1482.2 240.7 L1489.4 242 L1496.6 243.5 L1503.8 245.1 L1511 246.8 L1518.1 248.6 L1525.2 250.4 L1532.3 252.4 L1539.4 254.4 L1546.4 256.5 L1553.4 258.7 L1560.4 261 L1567.3 263.4 L1574.2 265.9 L1581.1 268.4 L1587.9 271 L1594.7 273.8 L1601.5 276.6 L1608.2 279.4 L1614.9 282.4 L1621.5 285.4 L1628.2 288.6 L1634.7 291.8 L1641.3 295 L1647.8 298.4 L1654.2 301.8 L1660.6 305.3 L1667 308.9 L1673.3 312.6 L1679.6 316.3 L1685.8 320.1 L1692 324 L1698.1 327.9 L1704.2 331.9 L1710.2 336 L1716.2 340.2 L1722.1 344.4 L1728 348.7 L1733.8 353 L1739.5 357.4 L1745.3 361.8 L1750.9 366.3 L1756.6 370.9 L1762.2 375.5 L1767.7 380.1 L1773.2 384.8 L1778.7 389.5 L1784.1 394.2 L1789.6 399 L1794.9 403.8 L1800.3 408.6 L1805.6 413.5 L1810.9 418.4 L1816.2 423.3 L1821.5 428.2 L1826.7 433.2 L1831.9 438.1 L1837.1 443.1 L1842.3 448.1 L1847.5 453.1 L1852.7 458.1 L1857.9 463.1 L1863 468.1 L1868.2 473.1 L1873.3 478.1 L1878.5 483.1 L1883.7 488 L1888.8 493 L1894 498 L1899.2 502.9 L1904.3 507.8 L1909.5 512.7 L1914.7 517.6 L1920 522.5 L1925.2 527.3 L1930.4 532.1 L1935.7 536.9 L1941 541.6 L1946.3 546.3 L1951.7 551 L1957 555.6 L1962.4 560.2 L1967.8 564.7 L1973.2 569.2 L1978.7 573.7 L1984.2 578.1 L1989.7 582.4 L1995.2 586.7 L2000.8 590.9 L2006.3 595.1 L2012 599.2 L2017.6 603.2 L2023.3 607.2 L2029 611.1 L2034.7 614.9 L2040.5 618.6 L2046.3 622.3 L2052.1 625.9 L2058 629.4 L2063.9 632.8 L2069.9 636.1 L2075.8 639.4 L2081.8 642.5 L2087.9 645.6 L2094 648.5 L2100.1 651.4 L2106.3 654.1 L2112.5 656.8 L2118.7 659.4 L2125.1 661.8 L2131.4 664.2 L2137.8 666.5 L2144.3 668.7 L2150.8 670.8 L2157.3 672.8 L2163.9 674.8 L2170.5 676.6 L2177.1 678.4 L2183.8 680.1 L2190.5 681.7 L2197.3 683.2 L2204 684.6 L2210.9 686 L2217.7 687.3 L2224.5 688.6 L2231.4 689.7 L2238.3 690.8 L2245.2 691.9 L2252.2 692.8 L2259.1 693.8 L2266.1 694.6 L2273.1 695.4 L2280.1 696.1 L2287.1 696.8 L2294.1 697.4 L2301.1 698 L2308.1 698.5 L2315.2 699 L2322.2 699.4 L2329.2 699.8 L2336.2 700.1 L2343.3 700.4 L2346.9 700.5 L2316 734.1 L2313 733.9 L2305.7 733.4 L2298.4 732.9 L2291.2 732.3 L2283.9 731.6 L2276.6 730.9 L2269.3 730.2 L2262 729.4 L2254.8 728.5 L2247.5 727.5 L2240.2 726.5 L2233 725.4 L2225.7 724.3 L2218.5 723.1 L2211.3 721.7 L2204.1 720.4 L2196.9 718.9 L2189.7 717.4 L2182.6 715.8 L2175.5 714 L2168.3 712.3 L2161.3 710.4 L2154.2 708.4 L2147.2 706.3 L2140.2 704.2 L2133.2 701.9 L2126.3 699.6 L2119.4 697.1 L2112.6 694.5 L2105.7 691.9 L2099 689.1 L2092.2 686.2 L2085.6 683.2 L2078.9 680.1 L2072.4 676.9 L2065.8 673.6 L2059.4 670.2 L2053 666.8 L2046.6 663.2 L2040.3 659.6 L2034 655.8 L2027.8 652 L2021.6 648.1 L2015.5 644.1 L2009.4 640.1 L2003.4 636 L1997.4 631.8 L1991.5 627.6 L1985.6 623.3 L1979.7 618.9 L1973.9 614.5 L1968.1 610 L1962.4 605.5 L1956.7 600.9 L1951 596.3 L1945.4 591.6 L1939.8 586.9 L1934.2 582.2 L1928.7 577.4 L1923.2 572.6 L1917.7 567.7 L1912.3 562.9 L1906.9 558 L1901.5 553.1 L1896.2 548.1 L1890.8 543.2 L1885.5 538.2 L1880.3 533.2 L1875 528.2 L1869.8 523.2 L1864.6 518.2 L1859.4 513.2 L1854.2 508.2 L1849 503.2 L1843.8 498.2 L1838.7 493.2 L1833.5 488.2 L1828.4 483.2 L1823.2 478.3 L1818.1 473.3 L1812.9 468.4 L1807.8 463.5 L1802.6 458.6 L1797.5 453.7 L1792.3 448.9 L1787.1 444.1 L1782 439.3 L1776.8 434.6 L1771.5 429.8 L1766.3 425.2 L1761.1 420.5 L1755.8 415.9 L1750.5 411.4 L1745.2 406.9 L1739.8 402.4 L1734.5 398 L1729.1 393.7 L1723.7 389.4 L1718.2 385.1 L1712.7 381 L1707.2 376.8 L1701.6 372.8 L1696 368.8 L1690.4 364.9 L1684.7 361 L1679 357.2 L1673.2 353.5 L1667.4 349.9 L1661.5 346.3 L1655.6 342.8 L1649.6 339.3 L1643.6 335.9 L1637.6 332.6 L1631.5 329.4 L1625.4 326.2 L1619.2 323.1 L1613 320.1 L1606.8 317.2 L1600.5 314.3 L1594.2 311.5 L1587.9 308.8 L1581.5 306.2 L1575.1 303.6 L1568.7 301.1 L1562.2 298.7 L1555.7 296.4 L1549.2 294.2 L1542.6 292 L1536.1 290 L1529.5 288 L1522.8 286.1 L1516.2 284.2 L1509.5 282.5 L1502.8 280.8 L1496.1 279.3 L1489.3 277.8 L1482.6 276.4 L1475.8 275.1 L1469 273.8 L1462.1 272.7 L1455.3 271.6 L1448.4 270.6 L1441.5 269.7 L1434.6 268.8 L1427.6 268.1 L1420.7 267.3 L1413.7 266.7 L1406.8 266.1 L1399.8 265.6 L1392.8 265.1 L1385.8 264.7 L1378.8 264.3 L1371.8 264 L1364.8 263.8 L1357.8 263.6 L1353.4 263.5 L1339.9 295.5Z"/>
<path d="M1254.1 1385 L1380.6 1433.3 L1368 1403.4 L1373.2 1403.2 L1380.4 1402.9 L1387.7 1402.6 L1395 1402.1 L1402.3 1401.6 L1409.5 1401.1 L1416.8 1400.5 L1424.1 1399.8 L1431.4 1399 L1438.7 1398.2 L1445.9 1397.3 L1453.2 1396.4 L1460.5 1395.3 L1467.7 1394.2 L1475 1393 L1482.2 1391.6 L1489.4 1390.3 L1496.6 1388.8 L1503.8 1387.2 L1511 1385.5 L1518.1 1383.7 L1525.2 1381.9 L1532.3 1379.9 L1539.4 1377.9 L1546.4 1375.8 L1553.4 1373.6 L1560.4 1371.3 L1567.3 1368.9 L1574.2 1366.4 L1581.1 1363.9 L1587.9 1361.3 L1594.7 1358.5 L1601.5 1355.7 L1608.2 1352.9 L1614.9 1349.9 L1621.5 1346.9 L1628.2 1343.7 L1634.7 1340.5 L1641.3 1337.3 L1647.8 1333.9 L1654.2 1330.5 L1660.6 1327 L1667 1323.4 L1673.3 1319.7 L1679.6 1316 L1685.8 1312.2 L1692 1308.3 L1698.1 1304.4 L1704.2 1300.4 L1710.2 1296.3 L1716.2 1292.1 L1722.1 1287.9 L1728 1283.6 L1733.8 1279.3 L1739.5 1274.9 L1745.3 1270.5 L1750.9 1266 L1756.6 1261.4 L1762.2 1256.8 L1767.7 1252.2 L1773.2 1247.5 L1778.7 1242.8 L1784.1 1238.1 L1789.6 1233.3 L1794.9 1228.5 L1800.3 1223.7 L1805.6 1218.8 L1810.9 1213.9 L1816.2 1209 L1821.5 1204.1 L1826.7 1199.1 L1831.9 1194.2 L1837.1 1189.2 L1842.3 1184.2 L1847.5 1179.2 L1852.7 1174.2 L1857.9 1169.2 L1863 1164.2 L1868.2 1159.2 L1873.3 1154.2 L1878.5 1149.2 L1883.7 1144.3 L1888.8 1139.3 L1894 1134.3 L1899.2 1129.4 L1904.3 1124.5 L1909.5 1119.6 L1914.7 1114.7 L1920 1109.8 L1925.2 1105 L1930.4 1100.2 L1935.7 1095.4 L1941 1090.7 L1946.3 1086 L1951.7 1081.3 L1957 1076.7 L1962.4 1072.1 L1967.8 1067.6 L1973.2 1063.1 L1978.7 1058.6 L1984.2 1054.2 L1989.7 1049.9 L1995.2 1045.6 L2000.8 1041.4 L2006.3 1037.2 L2012 1033.1 L2017.6 1029.1 L2023.3 1025.1 L2029 1021.2 L2034.7 1017.4 L2040.5 1013.7 L2046.3 1010 L2052.1 1006.4 L2058 1002.9 L2063.9 999.5 L2069.9 996.2 L2075.8 992.9 L2081.8 989.8 L2087.9 986.7 L2094 983.8 L2100.1 980.9 L2106.3 978.2 L2112.5 975.5 L2118.7 972.9 L2125.1 970.5 L2131.4 968.1 L2137.8 965.8 L2144.3 963.6 L2150.8 961.5 L2157.3 959.5 L2163.9 957.5 L2170.5 955.7 L2177.1 953.9 L2183.8 952.2 L2190.5 950.6 L2197.3 949.1 L2204 947.7 L2210.9 946.3 L2217.7 945 L2224.5 943.7 L2231.4 942.6 L2238.3 941.5 L2245.2 940.4 L2252.2 939.5 L2259.1 938.5 L2266.1 937.7 L2273.1 936.9 L2280.1 936.2 L2287.1 935.5 L2294.1 934.9 L2301.1 934.3 L2308.1 933.8 L2315.2 933.3 L2322.2 932.9 L2329.2 932.5 L2336.2 932.2 L2343.3 931.9 L2346.9 931.8 L2316 898.2 L2313 898.4 L2305.7 898.9 L2298.4 899.4 L2291.2 900 L2283.9 900.7 L2276.6 901.4 L2269.3 902.1 L2262 902.9 L2254.8 903.8 L2247.5 904.8 L2240.2 905.8 L2233 906.9 L2225.7 908 L2218.5 909.2 L2211.3 910.6 L2204.1 911.9 L2196.9 913.4 L2189.7 914.9 L2182.6 916.5 L2175.5 918.3 L2168.3 920 L2161.3 921.9 L2154.2 923.9 L2147.2 926 L2140.2 928.1 L2133.2 930.4 L2126.3 932.7 L2119.4 935.2 L2112.6 937.8 L2105.7 940.4 L2099 943.2 L2092.2 946.1 L2085.6 949.1 L2078.9 952.2 L2072.4 955.4 L2065.8 958.7 L2059.4 962.1 L2053 965.5 L2046.6 969.1 L2040.3 972.7 L2034 976.5 L2027.8 980.3 L2021.6 984.2 L2015.5 988.2 L2009.4 992.2 L2003.4 996.3 L1997.4 1000.5 L1991.5 1004.7 L1985.6 1009 L1979.7 1013.4 L1973.9 1017.8 L1968.1 1022.3 L1962.4 1026.8 L1956.7 1031.4 L1951 1036 L1945.4 1040.7 L1939.8 1045.4 L1934.2 1050.1 L1928.7 1054.9 L1923.2 1059.7 L1917.7 1064.6 L1912.3 1069.4 L1906.9 1074.3 L1901.5 1079.2 L1896.2 1084.2 L1890.8 1089.1 L1885.5 1094.1 L1880.3 1099.1 L1875 1104.1 L1869.8 1109.1 L1864.6 1114.1 L1859.4 1119.1 L1854.2 1124.1 L1849 1129.1 L1843.8 1134.1 L1838.7 1139.1 L1833.5 1144.1 L1828.4 1149.1 L1823.2 1154 L1818.1 1159 L1812.9 1163.9 L1807.8 1168.8 L1802.6 1173.7 L1797.5 1178.6 L1792.3 1183.4 L1787.1 1188.2 L1782 1193 L1776.8 1197.7 L1771.5 1202.5 L1766.3 1207.1 L1761.1 1211.8 L1755.8 1216.4 L1750.5 1220.9 L1745.2 1225.4 L1739.8 1229.9 L1734.5 1234.3 L1729.1 1238.6 L1723.7 1242.9 L1718.2 1247.2 L1712.7 1251.3 L1707.2 1255.5 L1701.6 1259.5 L1696 1263.5 L1690.4 1267.4 L1684.7 1271.3 L1679 1275.1 L1673.2 1278.8 L1667.4 1282.4 L1661.5 1286 L1655.6 1289.5 L1649.6 1293 L1643.6 1296.4 L1637.6 1299.7 L1631.5 1302.9 L1625.4 1306.1 L1619.2 1309.2 L1613 1312.2 L1606.8 1315.1 L1600.5 1318 L1594.2 1320.8 L1587.9 1323.5 L1581.5 1326.1 L1575.1 1328.7 L1568.7 1331.2 L1562.2 1333.6 L1555.7 1335.9 L1549.2 1338.1 L1542.6 1340.3 L1536.1 1342.3 L1529.5 1344.3 L1522.8 1346.2 L1516.2 1348.1 L1509.5 1349.8 L1502.8 1351.5 L1496.1 1353 L1489.3 1354.5 L1482.6 1355.9 L1475.8 1357.2 L1469 1358.5 L1462.1 1359.6 L1455.3 1360.7 L1448.4 1361.7 L1441.5 1362.6 L1434.6 1363.5 L1427.6 1364.2 L1420.7 1365 L1413.7 1365.6 L1406.8 1366.2 L1399.8 1366.7 L1392.8 1367.2 L1385.8 1367.6 L1378.8 1368 L1371.8 1368.3 L1364.8 1368.5 L1357.8 1368.7 L1353.4 1368.8 L1339.9 1336.8Z"/>
</g>
<g id="arrows" fill="#000" stroke="#fff" stroke-width="23.0" stroke-linejoin="miter" stroke-miterlimit="10" paint-order="stroke">
<path d="M909.5 348 L949 407.3 L926.9 407.3 L926.9 457.6 L892.1 457.6 L892.1 407.3 L870 407.3Z"/>
<path d="M909.5 1284.3 L870 1225 L892.1 1225 L892.1 1174.7 L926.9 1174.7 L926.9 1225 L949 1225Z"/>
<path d="M1225.7 348 L1265.2 407.3 L1243.1 407.3 L1243.1 457.6 L1208.3 457.6 L1208.3 407.3 L1186.2 407.3Z"/>
<path d="M1225.7 1284.3 L1186.2 1225 L1208.3 1225 L1208.3 1174.7 L1243.1 1174.7 L1243.1 1225 L1265.2 1225Z"/>
<path d="M1541.9 348 L1581.4 407.3 L1559.3 407.3 L1559.3 457.6 L1524.5 457.6 L1524.5 407.3 L1502.4 407.3Z"/>
<path d="M1541.9 1284.3 L1502.4 1225 L1524.5 1225 L1524.5 1174.7 L1559.3 1174.7 L1559.3 1225 L1581.4 1225Z"/>
<path d="M561.5 598 L620.8 558.5 L620.8 580.6 L671.1 580.6 L671.1 615.4 L620.8 615.4 L620.8 637.5Z"/>
<path d="M1889.9 598 L1830.6 637.5 L1830.6 615.4 L1780.3 615.4 L1780.3 580.6 L1830.6 580.6 L1830.6 558.5Z"/>
<path d="M561.5 816.1 L620.8 776.6 L620.8 798.8 L671.1 798.8 L671.1 833.5 L620.8 833.5 L620.8 855.6Z"/>
<path d="M1889.9 816.1 L1830.6 855.6 L1830.6 833.5 L1780.3 833.5 L1780.3 798.8 L1830.6 798.8 L1830.6 776.6Z"/>
<path d="M561.5 1034.3 L620.8 994.8 L620.8 1016.9 L671.1 1016.9 L671.1 1051.8 L620.8 1051.8 L620.8 1073.8Z"/>
<path d="M1889.9 1034.3 L1830.6 1073.8 L1830.6 1051.8 L1780.3 1051.8 L1780.3 1016.9 L1830.6 1016.9 L1830.6 994.8Z"/>
</g>
<g id="electrodes" fill="none" stroke="#000" stroke-width="11.3">
<rect x="590.9" y="287.9" width="1269.6" height="45.4"/>
<rect x="590.9" y="1299" width="1269.6" height="45.4"/>
</g>
<g id="iso" clip-path="url(#blk)" fill="none" stroke="#000" stroke-width="6.1" stroke-linecap="round" stroke-dasharray="81.3 57.6">
<path d="M1419.3 816.1A193.6 193.6 0 0 0 1032.1 816.1A193.6 193.6 0 0 0 1419.3 816.1" stroke-dashoffset="0"/>
<path d="M1497.2 816.1A271.5 271.5 0 0 0 954.2 816.1A271.5 271.5 0 0 0 1497.2 816.1" stroke-dashoffset="0"/>
<path d="M1575 816.1A349.3 349.3 0 0 0 876.4 816.1A349.3 349.3 0 0 0 1575 816.1" stroke-dashoffset="0"/>
<path d="M1652.7 816.1A427 427 0 0 0 798.7 816.1A427 427 0 0 0 1652.7 816.1" stroke-dashoffset="0"/>
<path d="M1730.2 816.1A504.5 504.5 0 0 0 721.2 816.1A504.5 504.5 0 0 0 1730.2 816.1" stroke-dashoffset="0"/>
</g>
<path id="block" d="M756.5 484L1694.8 484C1721.4 484 1742.8 505.5 1742.8 532L1742.8 1100.3C1742.8 1126.8 1721.4 1148.3 1694.8 1148.3L756.5 1148.3C730 1148.3 708.5 1126.8 708.5 1100.3L708.5 532C708.5 505.5 730 484 756.5 484Z" fill="none" stroke="#000" stroke-width="11.5"/>
<g id="radial" stroke="#000" stroke-width="5.8" stroke-linejoin="miter">
<path d="M1225.7 512.1 L1265.6 571.3 L1243 571.3 L1243 665.6 L1208.5 665.6 L1208.5 571.3 L1185.8 571.3Z" fill="#999999"/>
<path d="M1514.8 722.2 L1470.9 778.4 L1463.9 756.9 L1374.2 786 L1363.5 753.2 L1453.2 724.1 L1446.2 702.5Z" fill="#666666"/>
<path d="M1404.4 1062.1 L1337.3 1037.7 L1355.7 1024.4 L1300.2 948 L1328.1 927.8 L1383.6 1004.1 L1401.9 990.8Z" fill="#333333"/>
<path d="M1047 1062.1 L1049.5 990.8 L1067.8 1004.1 L1123.3 927.8 L1151.2 948 L1095.7 1024.4 L1114.1 1037.7Z" fill="#000000"/>
<path d="M936.6 722.2 L1005.2 702.5 L998.2 724.1 L1087.9 753.2 L1077.2 786 L987.5 756.9 L980.5 778.4Z" fill="#cccccc"/>
</g>
<circle cx="1225.7" cy="816.1" r="117.35" fill="#cccccc" stroke="#000" stroke-width="11.5"/>
<g id="steam" fill="none" stroke-linecap="butt">
<path d="M736 396.5C740.2 398.7 745 400.6 748.5 403.2C752 405.8 754.9 409 757.2 412.3C759.4 415.6 761.1 419.4 762.3 423.2C763.5 427 764 431.1 764.2 435.2C764.4 439.3 764 443.5 763.2 447.7C762.5 451.8 761.1 456 759.8 460C758.4 464.1 756.5 468.1 755.3 472.1C754.1 476.1 752.8 480.1 752.5 484.1C752.2 488.1 752.5 492.1 753.5 496.1C754.6 500 756.5 504 758.7 507.7C761 511.4 763.9 515 766.9 518.2C769.9 521.5 773.4 524.5 776.7 527C780.1 529.5 783.7 531.1 787.2 533.2" stroke="#fff" stroke-width="22.0"/>
<path d="M736 396.5C740.2 398.7 745 400.6 748.5 403.2C752 405.8 754.9 409 757.2 412.3C759.4 415.6 761.1 419.4 762.3 423.2C763.5 427 764 431.1 764.2 435.2C764.4 439.3 764 443.5 763.2 447.7C762.5 451.8 761.1 456 759.8 460C758.4 464.1 756.5 468.1 755.3 472.1C754.1 476.1 752.8 480.1 752.5 484.1C752.2 488.1 752.5 492.1 753.5 496.1C754.6 500 756.5 504 758.7 507.7C761 511.4 763.9 515 766.9 518.2C769.9 521.5 773.4 524.5 776.7 527C780.1 529.5 783.7 531.1 787.2 533.2" stroke="#4d4d4d" stroke-width="8.7"/>
<path d="M1049.1 395.2C1047.6 398.8 1045.4 402.6 1044.5 406.1C1043.7 409.5 1043.8 412.9 1044.2 416.1C1044.6 419.4 1045.7 422.5 1047.1 425.6C1048.4 428.8 1050.2 431.8 1052.1 434.8C1054 437.8 1056.3 440.8 1058.4 443.7C1060.6 446.7 1062.9 449.7 1064.9 452.7C1067 455.8 1069.1 458.8 1070.7 461.9C1072.4 465.1 1073.8 468.3 1074.8 471.6C1075.8 474.8 1076.6 478.2 1076.9 481.5C1077.2 484.8 1077.2 488.2 1076.9 491.6C1076.5 494.9 1075.7 498.3 1074.6 501.7C1073.5 505 1071.9 508.3 1070 511.5C1068.1 514.7 1065.3 517.8 1063 521" stroke="#fff" stroke-width="22.0"/>
<path d="M1049.1 395.2C1047.6 398.8 1045.4 402.6 1044.5 406.1C1043.7 409.5 1043.8 412.9 1044.2 416.1C1044.6 419.4 1045.7 422.5 1047.1 425.6C1048.4 428.8 1050.2 431.8 1052.1 434.8C1054 437.8 1056.3 440.8 1058.4 443.7C1060.6 446.7 1062.9 449.7 1064.9 452.7C1067 455.8 1069.1 458.8 1070.7 461.9C1072.4 465.1 1073.8 468.3 1074.8 471.6C1075.8 474.8 1076.6 478.2 1076.9 481.5C1077.2 484.8 1077.2 488.2 1076.9 491.6C1076.5 494.9 1075.7 498.3 1074.6 501.7C1073.5 505 1071.9 508.3 1070 511.5C1068.1 514.7 1065.3 517.8 1063 521" stroke="#4d4d4d" stroke-width="8.7"/>
<path d="M1307.4 393.6C1304.5 396.2 1300.9 398.6 1298.8 401.5C1296.6 404.3 1295.4 407.4 1294.6 410.6C1293.8 413.7 1293.8 417 1294.1 420.2C1294.4 423.4 1295.3 426.6 1296.4 429.8C1297.6 433 1299.2 436.2 1300.9 439.3C1302.6 442.5 1304.7 445.6 1306.7 448.8C1308.8 451.9 1311 455 1313.2 458.1C1315.3 461.2 1317.5 464.3 1319.4 467.4C1321.4 470.5 1323.3 473.6 1324.8 476.7C1326.3 479.8 1327.7 482.9 1328.5 486C1329.2 489.1 1329.7 492.3 1329.6 495.5C1329.4 498.6 1328.7 501.8 1327.3 505.1C1325.9 508.3 1323 511.6 1320.9 514.9" stroke="#fff" stroke-width="22.0"/>
<path d="M1307.4 393.6C1304.5 396.2 1300.9 398.6 1298.8 401.5C1296.6 404.3 1295.4 407.4 1294.6 410.6C1293.8 413.7 1293.8 417 1294.1 420.2C1294.4 423.4 1295.3 426.6 1296.4 429.8C1297.6 433 1299.2 436.2 1300.9 439.3C1302.6 442.5 1304.7 445.6 1306.7 448.8C1308.8 451.9 1311 455 1313.2 458.1C1315.3 461.2 1317.5 464.3 1319.4 467.4C1321.4 470.5 1323.3 473.6 1324.8 476.7C1326.3 479.8 1327.7 482.9 1328.5 486C1329.2 489.1 1329.7 492.3 1329.6 495.5C1329.4 498.6 1328.7 501.8 1327.3 505.1C1325.9 508.3 1323 511.6 1320.9 514.9" stroke="#4d4d4d" stroke-width="8.7"/>
<path d="M1416.4 382.4C1419.5 386.1 1423.1 389.5 1425.8 393.4C1428.5 397.3 1430.9 401.5 1432.7 405.8C1434.5 410 1435.9 414.5 1436.5 418.9C1437.2 423.3 1437.2 427.7 1436.7 432C1436.1 436.3 1434.8 440.5 1433.3 444.8C1431.8 449 1429.7 453.1 1427.6 457.3C1425.5 461.5 1423.1 465.6 1420.9 469.8C1418.6 473.9 1416.3 478.1 1414.3 482.3C1412.4 486.6 1410.5 490.8 1409.1 495.1C1407.8 499.4 1406.7 503.8 1406.4 508.1C1406 512.5 1406.1 517 1407 521.3C1407.8 525.7 1409.2 530.1 1411.4 534.3C1413.5 538.5 1417 542.4 1419.8 546.4" stroke="#fff" stroke-width="22.0"/>
<path d="M1416.4 382.4C1419.5 386.1 1423.1 389.5 1425.8 393.4C1428.5 397.3 1430.9 401.5 1432.7 405.8C1434.5 410 1435.9 414.5 1436.5 418.9C1437.2 423.3 1437.2 427.7 1436.7 432C1436.1 436.3 1434.8 440.5 1433.3 444.8C1431.8 449 1429.7 453.1 1427.6 457.3C1425.5 461.5 1423.1 465.6 1420.9 469.8C1418.6 473.9 1416.3 478.1 1414.3 482.3C1412.4 486.6 1410.5 490.8 1409.1 495.1C1407.8 499.4 1406.7 503.8 1406.4 508.1C1406 512.5 1406.1 517 1407 521.3C1407.8 525.7 1409.2 530.1 1411.4 534.3C1413.5 538.5 1417 542.4 1419.8 546.4" stroke="#4d4d4d" stroke-width="8.7"/>
<path d="M1665.8 407.8C1667.5 411.6 1669.9 415.5 1671 419.2C1672.1 422.9 1672.3 426.5 1672.2 430.1C1672.1 433.6 1671.3 437.1 1670.2 440.5C1669.1 444 1667.5 447.3 1665.7 450.7C1663.9 454 1661.7 457.3 1659.4 460.6C1657.2 463.9 1654.6 467.2 1652.2 470.5C1649.7 473.8 1647.1 477 1644.7 480.3C1642.3 483.6 1639.8 486.9 1637.7 490.2C1635.5 493.6 1633.4 496.9 1631.8 500.3C1630.1 503.7 1628.6 507.2 1627.7 510.7C1626.8 514.2 1626.1 517.7 1626.2 521.4C1626.2 525 1626.6 528.7 1627.8 532.5C1629 536.3 1631.5 540.3 1633.3 544.2" stroke="#fff" stroke-width="22.0"/>
<path d="M1665.8 407.8C1667.5 411.6 1669.9 415.5 1671 419.2C1672.1 422.9 1672.3 426.5 1672.2 430.1C1672.1 433.6 1671.3 437.1 1670.2 440.5C1669.1 444 1667.5 447.3 1665.7 450.7C1663.9 454 1661.7 457.3 1659.4 460.6C1657.2 463.9 1654.6 467.2 1652.2 470.5C1649.7 473.8 1647.1 477 1644.7 480.3C1642.3 483.6 1639.8 486.9 1637.7 490.2C1635.5 493.6 1633.4 496.9 1631.8 500.3C1630.1 503.7 1628.6 507.2 1627.7 510.7C1626.8 514.2 1626.1 517.7 1626.2 521.4C1626.2 525 1626.6 528.7 1627.8 532.5C1629 536.3 1631.5 540.3 1633.3 544.2" stroke="#4d4d4d" stroke-width="8.7"/>
<path d="M632.5 695.1C635.4 698.3 638 701.9 641.1 704.7C644.2 707.5 647.7 709.9 651.2 711.8C654.7 713.7 658.5 715.2 662.3 716.2C666.1 717.2 670 717.7 673.9 717.7C677.7 717.7 681.6 717.2 685.4 716.3C689.2 715.5 693 714.1 696.7 712.7C700.5 711.2 704.3 709.4 708.1 707.7C711.9 705.9 715.7 704 719.6 702.2C723.4 700.5 727.3 698.7 731.2 697.4C735 696 739 694.8 742.7 694.2C746.5 693.6 750.3 693.3 753.9 693.9C757.5 694.5 761 695.6 764.3 697.8C767.6 700 770.4 704 773.5 707.1" stroke="#fff" stroke-width="22.0"/>
<path d="M632.5 695.1C635.4 698.3 638 701.9 641.1 704.7C644.2 707.5 647.7 709.9 651.2 711.8C654.7 713.7 658.5 715.2 662.3 716.2C666.1 717.2 670 717.7 673.9 717.7C677.7 717.7 681.6 717.2 685.4 716.3C689.2 715.5 693 714.1 696.7 712.7C700.5 711.2 704.3 709.4 708.1 707.7C711.9 705.9 715.7 704 719.6 702.2C723.4 700.5 727.3 698.7 731.2 697.4C735 696 739 694.8 742.7 694.2C746.5 693.6 750.3 693.3 753.9 693.9C757.5 694.5 761 695.6 764.3 697.8C767.6 700 770.4 704 773.5 707.1" stroke="#4d4d4d" stroke-width="8.7"/>
<path d="M607.5 911.3C610.5 908.4 613.3 904.9 616.6 902.6C619.9 900.3 623.6 898.6 627.2 897.6C630.8 896.6 634.7 896.2 638.3 896.5C641.8 896.9 645.3 898.1 648.8 899.5C652.2 900.9 655.5 903 658.9 904.9C662.3 906.9 665.7 909.2 669.1 911C672.6 912.9 676.1 914.7 679.7 916.1C683.4 917.4 687.1 918.5 690.8 919.3C694.5 920 698.3 920.4 702.1 920.5C705.8 920.7 709.6 920.4 713.3 919.9C717.1 919.3 720.8 918.4 724.4 917.1C728 915.8 731.6 914.2 735 912.2C738.4 910.2 741.6 907.5 744.9 905.1" stroke="#fff" stroke-width="22.0"/>
<path d="M607.5 911.3C610.5 908.4 613.3 904.9 616.6 902.6C619.9 900.3 623.6 898.6 627.2 897.6C630.8 896.6 634.7 896.2 638.3 896.5C641.8 896.9 645.3 898.1 648.8 899.5C652.2 900.9 655.5 903 658.9 904.9C662.3 906.9 665.7 909.2 669.1 911C672.6 912.9 676.1 914.7 679.7 916.1C683.4 917.4 687.1 918.5 690.8 919.3C694.5 920 698.3 920.4 702.1 920.5C705.8 920.7 709.6 920.4 713.3 919.9C717.1 919.3 720.8 918.4 724.4 917.1C728 915.8 731.6 914.2 735 912.2C738.4 910.2 741.6 907.5 744.9 905.1" stroke="#4d4d4d" stroke-width="8.7"/>
<path d="M743.8 1097.6C740 1099.3 735.7 1100.3 732.4 1102.6C729.1 1104.8 726.3 1107.9 724 1111.1C721.7 1114.3 719.9 1118.1 718.5 1121.8C717.2 1125.5 716.4 1129.5 715.8 1133.4C715.2 1137.3 715.1 1141.4 714.9 1145.5C714.7 1149.5 714.8 1153.6 714.6 1157.7C714.4 1161.8 714.3 1165.9 713.8 1169.9C713.3 1173.9 712.6 1177.9 711.6 1181.8C710.7 1185.6 709.4 1189.4 707.8 1192.9C706.3 1196.5 704.4 1199.9 702.2 1203C699.9 1206.1 697.4 1209 694.4 1211.6C691.4 1214.2 688 1216.5 684.2 1218.4C680.4 1220.3 675.7 1221.5 671.5 1223" stroke="#fff" stroke-width="22.0"/>
<path d="M743.8 1097.6C740 1099.3 735.7 1100.3 732.4 1102.6C729.1 1104.8 726.3 1107.9 724 1111.1C721.7 1114.3 719.9 1118.1 718.5 1121.8C717.2 1125.5 716.4 1129.5 715.8 1133.4C715.2 1137.3 715.1 1141.4 714.9 1145.5C714.7 1149.5 714.8 1153.6 714.6 1157.7C714.4 1161.8 714.3 1165.9 713.8 1169.9C713.3 1173.9 712.6 1177.9 711.6 1181.8C710.7 1185.6 709.4 1189.4 707.8 1192.9C706.3 1196.5 704.4 1199.9 702.2 1203C699.9 1206.1 697.4 1209 694.4 1211.6C691.4 1214.2 688 1216.5 684.2 1218.4C680.4 1220.3 675.7 1221.5 671.5 1223" stroke="#4d4d4d" stroke-width="8.7"/>
<path d="M1079.3 1094.9C1081.1 1098.8 1083.5 1102.9 1084.7 1106.7C1085.9 1110.6 1086.5 1114.4 1086.6 1118.2C1086.7 1121.9 1086.2 1125.6 1085.4 1129.2C1084.6 1132.7 1083.2 1136.2 1081.7 1139.6C1080.1 1143 1078 1146.4 1075.8 1149.6C1073.6 1152.8 1071.1 1155.9 1068.4 1158.9C1065.8 1162 1062.8 1164.8 1059.9 1167.7C1057 1170.5 1053.9 1173.2 1051.1 1176C1048.3 1178.9 1045.4 1181.6 1043.2 1184.6C1040.9 1187.6 1038.8 1190.7 1037.5 1194.1C1036.1 1197.5 1035.2 1201.1 1035.3 1205C1035.3 1208.9 1036 1213.5 1037.6 1217.2C1039.1 1221 1042.2 1224.1 1044.5 1227.5" stroke="#fff" stroke-width="22.0"/>
<path d="M1079.3 1094.9C1081.1 1098.8 1083.5 1102.9 1084.7 1106.7C1085.9 1110.6 1086.5 1114.4 1086.6 1118.2C1086.7 1121.9 1086.2 1125.6 1085.4 1129.2C1084.6 1132.7 1083.2 1136.2 1081.7 1139.6C1080.1 1143 1078 1146.4 1075.8 1149.6C1073.6 1152.8 1071.1 1155.9 1068.4 1158.9C1065.8 1162 1062.8 1164.8 1059.9 1167.7C1057 1170.5 1053.9 1173.2 1051.1 1176C1048.3 1178.9 1045.4 1181.6 1043.2 1184.6C1040.9 1187.6 1038.8 1190.7 1037.5 1194.1C1036.1 1197.5 1035.2 1201.1 1035.3 1205C1035.3 1208.9 1036 1213.5 1037.6 1217.2C1039.1 1221 1042.2 1224.1 1044.5 1227.5" stroke="#4d4d4d" stroke-width="8.7"/>
<path d="M1328.5 1096.1C1326 1099.9 1322.8 1103.7 1321.1 1107.5C1319.3 1111.2 1318.4 1114.9 1318 1118.6C1317.5 1122.2 1317.8 1125.8 1318.4 1129.4C1319 1133 1320.2 1136.6 1321.6 1140.2C1323 1143.7 1324.8 1147.3 1326.7 1150.8C1328.6 1154.3 1330.8 1157.8 1333 1161.4C1335.1 1164.9 1337.4 1168.4 1339.5 1171.9C1341.6 1175.5 1343.8 1179 1345.6 1182.6C1347.4 1186.2 1349.1 1189.7 1350.4 1193.4C1351.6 1197 1352.7 1200.6 1353.1 1204.3C1353.5 1208 1353.6 1211.7 1353 1215.5C1352.3 1219.3 1351.2 1223.1 1349.2 1227C1347.1 1230.9 1343.7 1234.9 1340.9 1238.8" stroke="#fff" stroke-width="22.0"/>
<path d="M1328.5 1096.1C1326 1099.9 1322.8 1103.7 1321.1 1107.5C1319.3 1111.2 1318.4 1114.9 1318 1118.6C1317.5 1122.2 1317.8 1125.8 1318.4 1129.4C1319 1133 1320.2 1136.6 1321.6 1140.2C1323 1143.7 1324.8 1147.3 1326.7 1150.8C1328.6 1154.3 1330.8 1157.8 1333 1161.4C1335.1 1164.9 1337.4 1168.4 1339.5 1171.9C1341.6 1175.5 1343.8 1179 1345.6 1182.6C1347.4 1186.2 1349.1 1189.7 1350.4 1193.4C1351.6 1197 1352.7 1200.6 1353.1 1204.3C1353.5 1208 1353.6 1211.7 1353 1215.5C1352.3 1219.3 1351.2 1223.1 1349.2 1227C1347.1 1230.9 1343.7 1234.9 1340.9 1238.8" stroke="#4d4d4d" stroke-width="8.7"/>
<path d="M1615 1096.1C1612.4 1100 1609 1104 1607.2 1107.9C1605.3 1111.8 1604.2 1115.7 1603.6 1119.6C1603.1 1123.5 1603.2 1127.3 1603.8 1131C1604.4 1134.8 1605.6 1138.5 1607.1 1142.1C1608.6 1145.7 1610.7 1149.2 1612.9 1152.6C1615.1 1156 1617.8 1159.3 1620.5 1162.6C1623.1 1165.8 1626.1 1169 1628.9 1172.2C1631.7 1175.4 1634.6 1178.6 1637.2 1181.8C1639.8 1185.1 1642.5 1188.3 1644.5 1191.6C1646.6 1194.9 1648.5 1198.3 1649.6 1201.8C1650.8 1205.4 1651.6 1208.9 1651.5 1212.7C1651.4 1216.5 1650.7 1220.4 1648.9 1224.6C1647.2 1228.7 1643.6 1233.3 1640.9 1237.6" stroke="#fff" stroke-width="22.0"/>
<path d="M1615 1096.1C1612.4 1100 1609 1104 1607.2 1107.9C1605.3 1111.8 1604.2 1115.7 1603.6 1119.6C1603.1 1123.5 1603.2 1127.3 1603.8 1131C1604.4 1134.8 1605.6 1138.5 1607.1 1142.1C1608.6 1145.7 1610.7 1149.2 1612.9 1152.6C1615.1 1156 1617.8 1159.3 1620.5 1162.6C1623.1 1165.8 1626.1 1169 1628.9 1172.2C1631.7 1175.4 1634.6 1178.6 1637.2 1181.8C1639.8 1185.1 1642.5 1188.3 1644.5 1191.6C1646.6 1194.9 1648.5 1198.3 1649.6 1201.8C1650.8 1205.4 1651.6 1208.9 1651.5 1212.7C1651.4 1216.5 1650.7 1220.4 1648.9 1224.6C1647.2 1228.7 1643.6 1233.3 1640.9 1237.6" stroke="#4d4d4d" stroke-width="8.7"/>
<path d="M1704.8 1061.6C1707 1064.1 1709 1067.1 1711.3 1069.1C1713.5 1071.1 1716 1072.4 1718.4 1073.5C1720.9 1074.5 1723.5 1075 1726.2 1075.4C1728.9 1075.7 1731.6 1075.6 1734.4 1075.5C1737.2 1075.3 1740 1074.9 1742.9 1074.4C1745.8 1074 1748.7 1073.4 1751.7 1072.9C1754.6 1072.5 1757.5 1071.9 1760.5 1071.6C1763.4 1071.3 1766.4 1071.1 1769.2 1071.2C1772.1 1071.2 1775 1071.5 1777.7 1072C1780.4 1072.6 1783 1073.3 1785.5 1074.4C1787.9 1075.6 1790.2 1076.9 1792.2 1078.7C1794.3 1080.5 1796.1 1082.6 1797.6 1085.2C1799.1 1087.7 1800.1 1091.1 1801.3 1094" stroke="#fff" stroke-width="22.0"/>
<path d="M1704.8 1061.6C1707 1064.1 1709 1067.1 1711.3 1069.1C1713.5 1071.1 1716 1072.4 1718.4 1073.5C1720.9 1074.5 1723.5 1075 1726.2 1075.4C1728.9 1075.7 1731.6 1075.6 1734.4 1075.5C1737.2 1075.3 1740 1074.9 1742.9 1074.4C1745.8 1074 1748.7 1073.4 1751.7 1072.9C1754.6 1072.5 1757.5 1071.9 1760.5 1071.6C1763.4 1071.3 1766.4 1071.1 1769.2 1071.2C1772.1 1071.2 1775 1071.5 1777.7 1072C1780.4 1072.6 1783 1073.3 1785.5 1074.4C1787.9 1075.6 1790.2 1076.9 1792.2 1078.7C1794.3 1080.5 1796.1 1082.6 1797.6 1085.2C1799.1 1087.7 1800.1 1091.1 1801.3 1094" stroke="#4d4d4d" stroke-width="8.7"/>
<path d="M1699 685.5C1703 683.2 1707 680.3 1711 678.7C1715.1 677 1719.1 676 1723.2 675.4C1727.3 674.9 1731.4 674.9 1735.4 675.3C1739.5 675.6 1743.5 676.5 1747.5 677.6C1751.5 678.8 1755.5 680.3 1759.4 682C1763.4 683.7 1767.3 685.7 1771.2 687.6C1775.1 689.5 1779 691.6 1782.9 693.4C1786.9 695.2 1790.8 697.1 1794.8 698.5C1798.8 699.9 1802.9 701.1 1806.9 701.8C1810.9 702.4 1815 702.7 1819 702.4C1822.9 702.1 1826.9 701.3 1830.7 699.8C1834.4 698.3 1838.1 696.2 1841.5 693.4C1844.9 690.6 1847.8 686.4 1851 682.9" stroke="#fff" stroke-width="22.0"/>
<path d="M1699 685.5C1703 683.2 1707 680.3 1711 678.7C1715.1 677 1719.1 676 1723.2 675.4C1727.3 674.9 1731.4 674.9 1735.4 675.3C1739.5 675.6 1743.5 676.5 1747.5 677.6C1751.5 678.8 1755.5 680.3 1759.4 682C1763.4 683.7 1767.3 685.7 1771.2 687.6C1775.1 689.5 1779 691.6 1782.9 693.4C1786.9 695.2 1790.8 697.1 1794.8 698.5C1798.8 699.9 1802.9 701.1 1806.9 701.8C1810.9 702.4 1815 702.7 1819 702.4C1822.9 702.1 1826.9 701.3 1830.7 699.8C1834.4 698.3 1838.1 696.2 1841.5 693.4C1844.9 690.6 1847.8 686.4 1851 682.9" stroke="#4d4d4d" stroke-width="8.7"/>
<path d="M1700.6 884.2C1703.5 887.6 1706.2 891.6 1709.4 894.4C1712.7 897.2 1716.2 899.3 1719.9 900.9C1723.6 902.5 1727.5 903.5 1731.4 904.1C1735.3 904.6 1739.3 904.5 1743.2 904.1C1747.2 903.7 1751.2 902.8 1755.2 901.7C1759.1 900.6 1763.1 899.1 1767.1 897.7C1771.1 896.3 1775.1 894.6 1779.1 893.1C1783.1 891.6 1787.1 890 1791.1 888.7C1795.1 887.5 1799.2 886.3 1803.1 885.5C1807.1 884.8 1811.1 884.3 1815 884.3C1818.9 884.4 1822.7 884.7 1826.5 885.8C1830.2 886.9 1833.9 888.4 1837.4 890.7C1841 893.1 1844.3 896.8 1847.7 899.8" stroke="#fff" stroke-width="22.0"/>
<path d="M1700.6 884.2C1703.5 887.6 1706.2 891.6 1709.4 894.4C1712.7 897.2 1716.2 899.3 1719.9 900.9C1723.6 902.5 1727.5 903.5 1731.4 904.1C1735.3 904.6 1739.3 904.5 1743.2 904.1C1747.2 903.7 1751.2 902.8 1755.2 901.7C1759.1 900.6 1763.1 899.1 1767.1 897.7C1771.1 896.3 1775.1 894.6 1779.1 893.1C1783.1 891.6 1787.1 890 1791.1 888.7C1795.1 887.5 1799.2 886.3 1803.1 885.5C1807.1 884.8 1811.1 884.3 1815 884.3C1818.9 884.4 1822.7 884.7 1826.5 885.8C1830.2 886.9 1833.9 888.4 1837.4 890.7C1841 893.1 1844.3 896.8 1847.7 899.8" stroke="#4d4d4d" stroke-width="8.7"/>
</g>
<g id="leaders" fill="none" stroke-linejoin="miter">
<path d="M721 114.5 L867 114.5 L1013.5 455.6" stroke="#fff" stroke-width="24.0"/>
<path d="M721 114.5 L867 114.5 L1013.5 455.6" stroke="#000" stroke-width="5.8"/>
<path d="M443.3 1430.6 L576.4 1430.6 L1155.6 840.5" stroke="#fff" stroke-width="22.5"/>
<path d="M443.3 1430.6 L576.4 1430.6 L1155.6 840.5" stroke="#000" stroke-width="5.8"/>
</g>
<g id="labels">
<g fill="#000" font-family="&quot;Liberation Sans&quot;, &quot;Noto Sans CJK JP&quot;, sans-serif">
<text x="332" y="143" font-size="80">表面温度</text>
<text x="332" y="240" font-size="86" textLength="395" lengthAdjust="spacingAndGlyphs">80～90℃</text>
<text x="2073" y="389" font-size="80">熱気温度</text>
<text x="2072" y="487" font-size="86" textLength="395" lengthAdjust="spacingAndGlyphs">80～90℃</text>
<text x="86" y="1457" font-size="80">内部温度</text>
<text x="92" y="1556" font-size="86" textLength="242" lengthAdjust="spacingAndGlyphs">100℃</text>
<text x="347" y="1554" font-size="80">以上</text>
<text x="1982" y="257" font-size="80">極</text>
<text x="1982" y="1442" font-size="80">極</text>
</g>
<g fill="#000">
<circle cx="1929.8" cy="226" r="39" fill="none" stroke="#000" stroke-width="3.7"/>
<rect x="1903.2" y="222.1" width="53.1" height="7.8"/>
<rect x="1925.8" y="199.4" width="7.9" height="53.1"/>
<circle cx="1929.8" cy="1411.4" r="39" fill="none" stroke="#000" stroke-width="3.7"/>
<rect x="1903.2" y="1407.5" width="53.1" height="7.8"/>
</g>
</g>
</svg></body></html>
